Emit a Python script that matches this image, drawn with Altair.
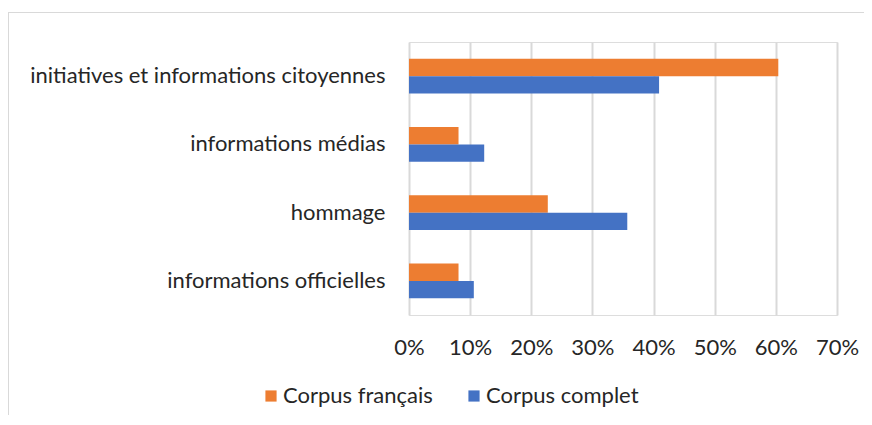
import altair as alt
import pandas as pd

categories = ["initiatives et informations citoyennes", "informations médias", "hommage", "informations officielles"]
series = ["Corpus français", "Corpus complet"]
francais = [0.604, 0.081, 0.227, 0.081]
complet = [0.409, 0.123, 0.357, 0.106]
x_ticks = [0, 0.1, 0.2, 0.3, 0.4, 0.5, 0.6, 0.7]
colors = ["#ED7D31", "#4472C4"]

rows = []
for c, f, k in zip(categories, francais, complet):
    rows.append({"cat": c, "serie": series[0], "val": f})
    rows.append({"cat": c, "serie": series[1], "val": k})
df = pd.DataFrame(rows)

FONT = "Lato"
FS = 22

bars = alt.Chart(df).mark_bar().encode(
    x=alt.X("val:Q", scale=alt.Scale(domain=[0, 0.7], nice=False),
            axis=alt.Axis(values=x_ticks, format=".0%", title=None, grid=True,
                          gridColor="#d9d9d9", gridWidth=2, domain=False, ticks=False,
                          labelPadding=22, labelFontSize=FS, labelColor="#262626",
                          labelFont=FONT, labelFlush=False, labelOverlap=False)),
    y=alt.Y("cat:N", sort=categories,
            scale=alt.Scale(paddingInner=0.49, paddingOuter=0.245),
            axis=alt.Axis(title=None, domain=False, ticks=False, labelPadding=24,
                          labelFontSize=FS, labelColor="#262626", labelFont=FONT,
                          labelLimit=500)),
    yOffset=alt.YOffset("serie:N", sort=series),
    color=alt.Color("serie:N", sort=series,
                    scale=alt.Scale(domain=series, range=colors),
                    legend=alt.Legend(title=None, orient="none", legendX=-149, legendY=343,
                                      direction="horizontal", symbolType="square",
                                      symbolSize=125, symbolStrokeWidth=0,
                                      labelFontSize=FS, labelFont=FONT, labelColor="#262626",
                                      labelOffset=1, columnPadding=30)),
)

border_v = alt.Chart(df).mark_rule(color="#d9d9d9", strokeWidth=1).encode(
    x=alt.value(-400.5), y=alt.value(-30), y2=alt.value(380))
border_h = alt.Chart(df).mark_rule(color="#d9d9d9", strokeWidth=1).encode(
    x=alt.value(-401), x2=alt.value(460), y=alt.value(-29.5))

chart = alt.layer(border_v, border_h, bars).properties(
    width=428, height=273,
    autosize=alt.AutoSizeParams(type="none"),
    padding={"left": 401, "top": 34, "right": 27, "bottom": 100},
).configure_view(stroke=None).configure(background="white")

chart.save("out.html", embed_options={"renderer": "svg", "actions": False})
